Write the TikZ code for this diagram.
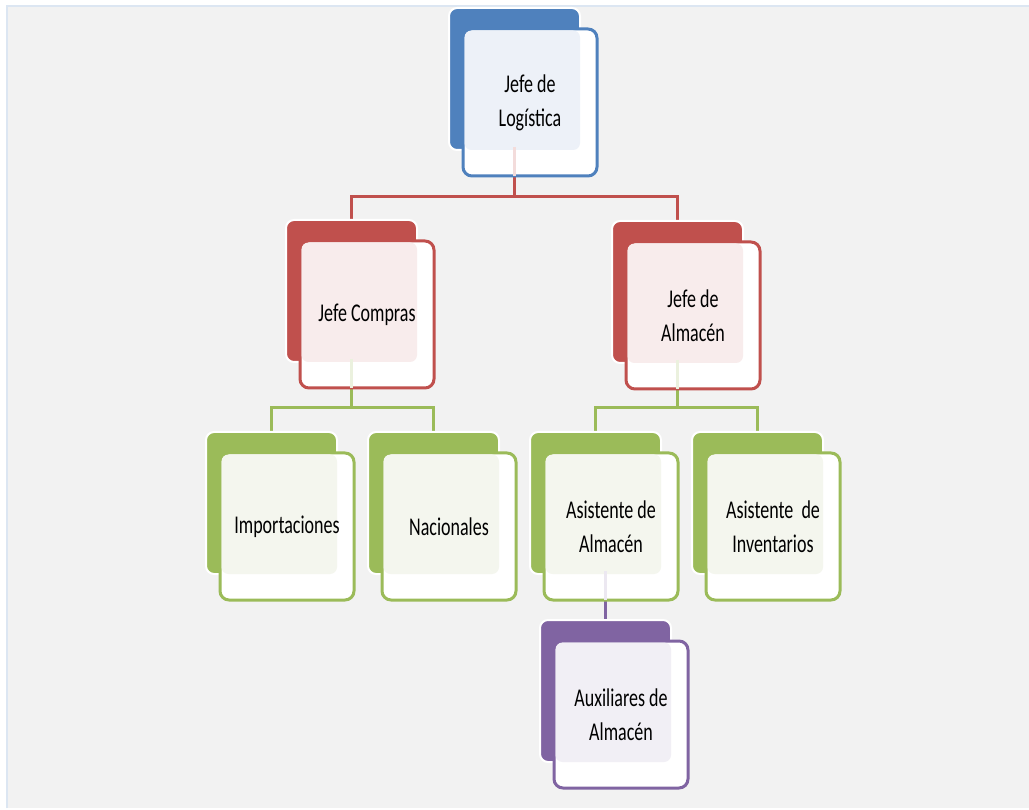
\documentclass[tikz,border=0pt]{standalone}
\usepackage{fontspec}
\setmainfont{Carlito}
\usetikzlibrary{calc}

\definecolor{orgblue}{HTML}{4F81BD}
\definecolor{orgred}{HTML}{C0504D}
\definecolor{orggreen}{HTML}{9BBB59}
\definecolor{orgpurple}{HTML}{8064A2}
\definecolor{tintblue}{HTML}{EDF1F8}
\definecolor{tintred}{HTML}{F8ECEC}
\definecolor{tintgreen}{HTML}{F4F6EE}
\definecolor{tintpurple}{HTML}{F1EFF5}
\definecolor{panelgray}{HTML}{F2F2F2}
\definecolor{paneledge}{HTML}{DCE6F2}

\tikzset{
  backbox/.style={draw=white, line width=2pt, rounded corners=8pt,
    minimum width=131pt, minimum height=142pt, inner sep=0pt, outer sep=0pt},
  frontbox/.style={fill=white, line width=3pt, rounded corners=9pt,
    minimum width=134pt, minimum height=147pt, inner sep=0pt, outer sep=0pt},
  orgtext/.style={font=\fontsize{18}{24}\selectfont, align=center,
    text=black, yscale=1.42, inner sep=0pt},
  link/.style={line width=3pt},
}

% one unit: name, top-left of the back card, colour, tint, label
\newcommand\orgunit[6]{%
  \node[backbox, fill=#4] (#1b) at (#2+65.5, #3+71) {};
  \node[frontbox, draw=#4] (#1) at (#2+81, #3+94.5) {};
  \fill[#5, rounded corners=7pt] ([shift={(1.5,1.5)}]#1.north west)
    rectangle (#1b.south east);
  \node[orgtext] (#1t) at (#1) {#6};
}

\begin{document}
\begin{tikzpicture}[x=1pt, y=-1pt]
  \useasboundingbox (0,0) rectangle (1029,810);
  \fill[white] (0,0) rectangle (1029,810);
  \fill[panelgray] (7,6) rectangle (1029,808);
  \draw[paneledge, line width=1.5pt] (7,808) -- (7,6) -- (1029,6);

  % junction points of the connectors
  \coordinate (j1) at (514.5,197);
  \coordinate (j2) at (351.5,408);
  \coordinate (j3) at (677,408);

  % connectors
  \draw[link, orgred] (514.5,170) -- (j1) -| (351.5,225);
  \draw[link, orgred] (j1) -| (677,225);
  \draw[link, orggreen] (351.5,380) -- (j2) -| (271,437);
  \draw[link, orggreen] (j2) -| (433.5,437);
  \draw[link, orggreen] (677,380) -- (j3) -| (595.5,437);
  \draw[link, orggreen] (j3) -| (757.5,437);
  \draw[link, orgpurple] (605.5,595) -- (605.5,625);

  % cards
  \orgunit{log}{449}{8}{orgblue}{tintblue}{Jefe de\\Logística}
  \orgunit{com}{286}{220}{orgred}{tintred}{Jefe Compras}
  \orgunit{alm}{612}{221}{orgred}{tintred}{Jefe de\\Almacén}
  \orgunit{imp}{206}{432}{orggreen}{tintgreen}{Importaciones}
  \orgunit{nac}{368}{432}{orggreen}{tintgreen}{Nacionales}
  \orgunit{asa}{530}{432}{orggreen}{tintgreen}{Asistente de\\Almacén}
  \orgunit{asi}{692}{432}{orggreen}{tintgreen}{Asistente\hspace{0.45em}de\\Inventarios}
  \orgunit{aux}{540}{620}{orgpurple}{tintpurple}{Auxiliares de\\Almacén}

  % connectors showing faintly through the lower part of parent cards
  \draw[link, orgred!20] ([yshift=3pt]logb.south) -- (logb.south |- log.south);
  \draw[link, orggreen!20] ([yshift=3pt]comb.south) -- (comb.south |- com.south);
  \draw[link, orggreen!20] ([yshift=3pt]almb.south) -- (almb.south |- alm.south);
  \draw[link, orgpurple!15] ([yshift=3pt]auxb.north |- asab.south) -- (auxb.north |- asa.south);
\end{tikzpicture}
\end{document}
